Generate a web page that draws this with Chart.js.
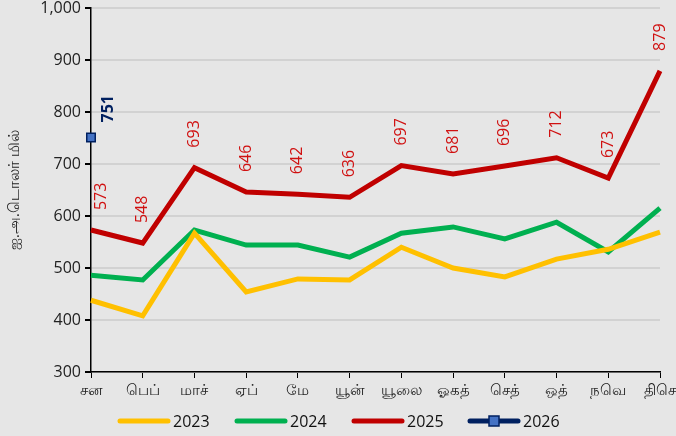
<!DOCTYPE html>
<html>
<head>
<meta charset="utf-8">
<script src="https://cdn.jsdelivr.net/npm/chart.js@4.4.1/dist/chart.umd.min.js"></script>
<style>
  html, body { margin: 0; padding: 0; background: #e6e6e6; }
  #wrap { width: 676px; height: 436px; }
</style>
</head>
<body>
<div id="wrap"><canvas id="exports" width="676" height="436"></canvas></div>
<script>
// months (Tamil short names)
const months = ['சன', 'பெப்', 'மாச்', 'ஏப்', 'மே', 'யூன்', 'யூலை', 'ஓகத்', 'செத்', 'ஒத்', 'நவெ', 'திசெ'];

const v2023 = [438, 408, 567, 454, 479, 477, 540, 500, 483, 517, 536, 569];
const v2024 = [486, 477, 573, 544, 544, 521, 567, 579, 556, 588, 531, 615];
const v2025 = [573, 548, 693, 646, 642, 636, 697, 681, 696, 712, 673, 879];
const v2026 = [751];

const yTitle = 'ஐ.அ.டொலர் மில்';
const fontFam = "'Open Sans', 'Noto Sans', sans-serif";

// rotated value labels above the points of 2025 and 2026
const valueLabels = {
  id: 'valueLabels',
  afterDatasetsDraw(chart) {
    const ctx = chart.ctx;
    const area = chart.chartArea;
    chart.data.datasets.forEach((ds, i) => {
      if (!ds.showValues) return;
      const meta = chart.getDatasetMeta(i);
      meta.data.forEach((pt, j) => {
        let x = pt.x + (ds.labelDx || 0);
        if (x < area.left + 10) x = area.left + 10;
        ctx.save();
        ctx.translate(x, pt.y - (ds.labelGap || 20));
        ctx.rotate(-Math.PI / 2);
        ctx.font = (ds.labelBold ? 'bold ' : '') + '16px ' + fontFam;
        ctx.fillStyle = ds.labelColor;
        ctx.textAlign = 'left';
        ctx.textBaseline = 'middle';
        ctx.fillText(String(ds.data[j]), 0, 0);
        ctx.restore();
      });
    });
  }
};

// legend drawn at the bottom
const bottomLegend = {
  id: 'bottomLegend',
  afterDraw(chart) {
    const ctx = chart.ctx;
    const y = 421;
    const starts = [120, 237, 354, 470];
    ctx.save();
    ctx.font = '16px ' + fontFam;
    ctx.textBaseline = 'middle';
    chart.data.datasets.forEach((ds, i) => {
      const x0 = starts[i];
      ctx.strokeStyle = ds.borderColor;
      ctx.lineWidth = 5;
      ctx.lineCap = 'round';
      ctx.beginPath();
      ctx.moveTo(x0, y);
      ctx.lineTo(x0 + 48, y);
      ctx.stroke();
      if (ds.pointRadius > 0) {
        ctx.fillStyle = ds.pointBackgroundColor;
        ctx.strokeStyle = ds.pointBorderColor;
        ctx.lineWidth = 1.5;
        ctx.fillRect(x0 + 19, y - 5, 10, 10);
        ctx.strokeRect(x0 + 19, y - 5, 10, 10);
      }
      ctx.fillStyle = '#111';
      ctx.textAlign = 'left';
      ctx.fillText(ds.label, x0 + 53, y + 1);
    });
    ctx.restore();
  }
};

const bgPlugin = {
  id: 'bg',
  beforeDraw(chart) {
    const ctx = chart.ctx;
    ctx.save();
    ctx.fillStyle = '#e6e6e6';
    ctx.fillRect(0, 0, chart.width, chart.height);
    ctx.restore();
  }
};

new Chart(document.getElementById('exports').getContext('2d'), {
  type: 'line',
  data: {
    labels: months,
    datasets: [
      { label: '2023', data: v2023, borderColor: '#FFC000', borderWidth: 5, pointRadius: 0, tension: 0 },
      { label: '2024', data: v2024, borderColor: '#00B050', borderWidth: 5, pointRadius: 0, tension: 0 },
      { label: '2025', data: v2025, borderColor: '#C00000', borderWidth: 5, pointRadius: 0, tension: 0,
        showValues: true, labelColor: '#D01010', labelGap: 20 },
      { label: '2026', data: v2026, borderColor: '#002060', borderWidth: 5, pointRadius: 6,
        pointStyle: 'rect', pointBackgroundColor: '#4472C4', pointBorderColor: '#002060', pointBorderWidth: 1.5,
        showValues: true, labelColor: '#002060', labelBold: true, labelGap: 15, labelDx: 17 }
    ]
  },
  options: {
    responsive: false,
    animation: false,
    layout: { padding: { top: 8, right: 16, bottom: 30, left: 2 } },
    plugins: {
      legend: { display: false },
      tooltip: { enabled: false }
    },
    scales: {
      x: {
        offset: false,
        grid: { display: true, drawOnChartArea: false, drawTicks: true, tickLength: 6, tickColor: '#000' },
        border: { color: '#000', width: 1.5 },
        ticks: { color: '#222', font: { family: fontFam, size: 15 }, padding: 4, maxRotation: 0, autoSkip: false },
        afterFit(scale) {
          scale.paddingLeft = 0;
          scale.paddingRight = 0;
          scale.height = 34;
        }
      },
      y: {
        min: 300,
        max: 1000,
        grid: { color: '#d2d2d2', lineWidth: 2, tickLength: 6, tickColor: '#000' },
        border: { color: '#000', width: 1.5 },
        ticks: { stepSize: 100, color: '#222', font: { family: fontFam, size: 16 }, padding: 4 },
        title: { display: true, text: yTitle, color: '#222', font: { family: fontFam, size: 15 }, padding: 4 },
        afterFit(scale) {
          scale.paddingTop = 0;
          scale.paddingBottom = 0;
          scale.width = 89;
        }
      }
    }
  },
  plugins: [bgPlugin, valueLabels, bottomLegend]
});
</script>
</body>
</html>
